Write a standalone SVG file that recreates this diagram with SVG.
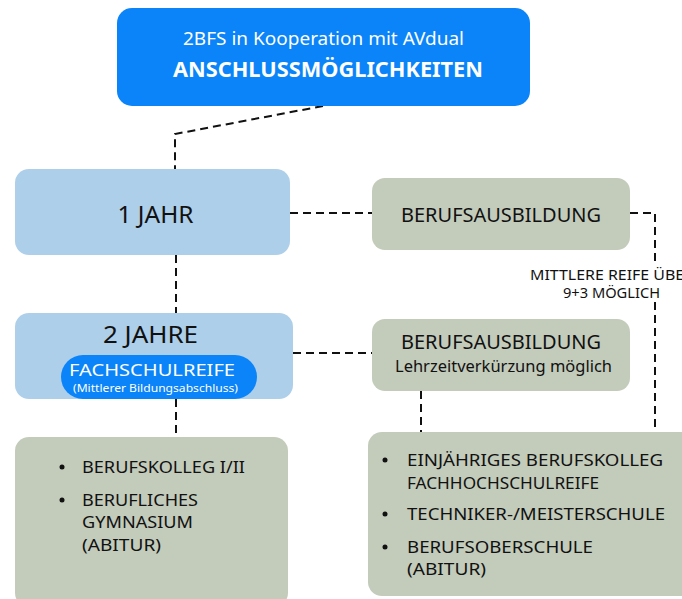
<svg xmlns="http://www.w3.org/2000/svg" width="682" height="599" viewBox="0 0 682 599">
<style>
text{font-family:"Noto Sans","Liberation Sans",sans-serif;fill:#111}
.blue{fill:#0a84f8}
.light{fill:#aecfe9}
.green{fill:#c3cbbb}
.w{fill:#fff}
.c{text-anchor:middle}
.b{font-size:17px}
.conn{fill:none;stroke:#111;stroke-width:2;stroke-dasharray:8,5}
</style>
<rect width="682" height="599" fill="#fff"/>
<g id="connectors">
<path class="conn" d="M323,106 L175,134 L175,169"/>
<path class="conn" d="M176,255 L176,313"/>
<path class="conn" d="M176,399 L176,437"/>
<path class="conn" d="M290,213 L372,213"/>
<path class="conn" d="M293,353 L372,353"/>
<path class="conn" d="M630,213 L655,213 L655,265"/>
<path class="conn" d="M655,302 L655,432"/>
<path class="conn" d="M421,391 L421,432"/>
</g>
<g id="title">
<rect class="blue" x="117" y="8" width="413" height="98" rx="15"/>
<text class="c w" x="323.5" y="44.5" font-size="18" textLength="281" lengthAdjust="spacingAndGlyphs">2BFS in Kooperation mit AVdual</text>
<text class="c w" x="328" y="77" font-size="22" font-weight="bold" textLength="310" lengthAdjust="spacingAndGlyphs">ANSCHLUSSMÖGLICHKEITEN</text>
</g>
<g id="jahr1">
<rect class="light" x="15" y="169" width="275" height="86" rx="14"/>
<text class="c" x="155.5" y="222.5" font-size="23" textLength="76" lengthAdjust="spacingAndGlyphs">1 JAHR</text>
</g>
<g id="ausbildung1">
<rect class="green" x="372" y="178" width="258" height="72" rx="13"/>
<text class="c" x="501" y="222" font-size="20" textLength="200" lengthAdjust="spacingAndGlyphs">BERUFSAUSBILDUNG</text>
</g>
<g id="label">
<text class="c" x="612" y="280" font-size="14" textLength="164" lengthAdjust="spacingAndGlyphs">MITTLERE REIFE ÜBER</text>
<text class="c" x="611.5" y="298" font-size="14" textLength="97" lengthAdjust="spacingAndGlyphs">9+3 MÖGLICH</text>
</g>
<g id="jahr2">
<rect class="light" x="15" y="313" width="278" height="86" rx="14"/>
<text class="c" x="150.5" y="343" font-size="23" textLength="95" lengthAdjust="spacingAndGlyphs">2 JAHRE</text>
<rect class="blue" x="61" y="355" width="196" height="44" rx="22"/>
<text class="c w" x="152" y="376" font-size="16" textLength="166" lengthAdjust="spacingAndGlyphs">FACHSCHULREIFE</text>
<text class="c w" x="155.5" y="392" font-size="10.5" textLength="165" lengthAdjust="spacingAndGlyphs">(Mittlerer Bildungsabschluss)</text>
</g>
<g id="ausbildung2">
<rect class="green" x="372" y="319" width="258" height="72" rx="13"/>
<text class="c" x="501" y="349" font-size="20" textLength="200" lengthAdjust="spacingAndGlyphs">BERUFSAUSBILDUNG</text>
<text class="c" x="503.5" y="372" font-size="16" textLength="217" lengthAdjust="spacingAndGlyphs">Lehrzeitverkürzung möglich</text>
</g>
<g id="bottomLeft">
<rect class="green" x="15" y="437" width="273" height="170" rx="14"/>
<circle cx="62" cy="467" r="2.5" fill="#111"/>
<circle cx="62" cy="500" r="2.5" fill="#111"/>
<text class="b" x="82" y="473" textLength="163" lengthAdjust="spacingAndGlyphs">BERUFSKOLLEG I/II</text>
<text class="b" x="82" y="506" textLength="116" lengthAdjust="spacingAndGlyphs">BERUFLICHES</text>
<text class="b" x="82" y="528" textLength="111" lengthAdjust="spacingAndGlyphs">GYMNASIUM</text>
<text class="b" x="82" y="551" textLength="79" lengthAdjust="spacingAndGlyphs">(ABITUR)</text>
</g>
<g id="bottomRight">
<rect class="green" x="368" y="432" width="330" height="164" rx="14"/>
<circle cx="385" cy="460" r="2.5" fill="#111"/>
<circle cx="385" cy="514" r="2.5" fill="#111"/>
<circle cx="385" cy="547" r="2.5" fill="#111"/>
<text class="b" x="407" y="466" textLength="256" lengthAdjust="spacingAndGlyphs">EINJÄHRIGES BERUFSKOLLEG</text>
<text class="b" x="407" y="489" textLength="192" lengthAdjust="spacingAndGlyphs">FACHHOCHSCHULREIFE</text>
<text class="b" x="407" y="520" textLength="258" lengthAdjust="spacingAndGlyphs">TECHNIKER-/MEISTERSCHULE</text>
<text class="b" x="407" y="553" textLength="186" lengthAdjust="spacingAndGlyphs">BERUFSOBERSCHULE</text>
<text class="b" x="407" y="575" textLength="79" lengthAdjust="spacingAndGlyphs">(ABITUR)</text>
</g>
</svg>
